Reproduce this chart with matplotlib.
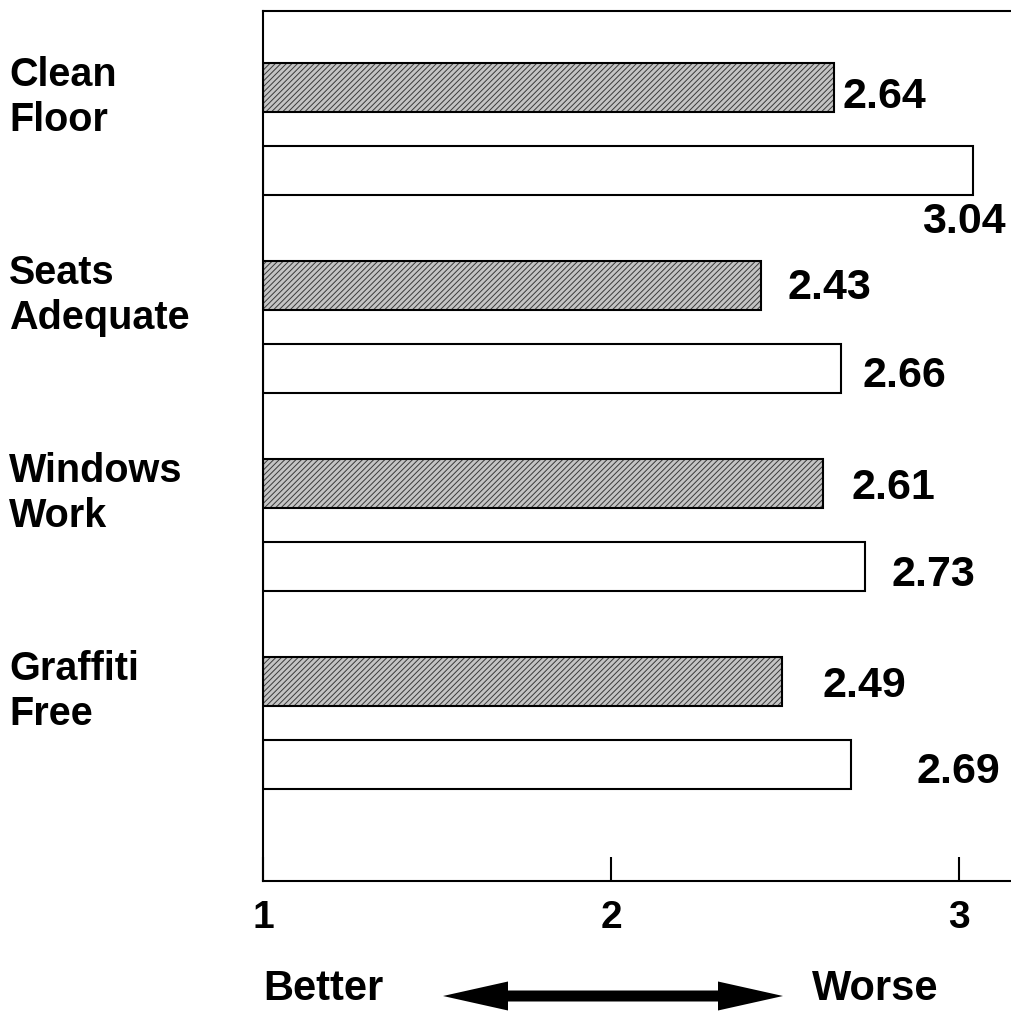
import matplotlib
matplotlib.use("Agg")
import matplotlib.pyplot as plt
import matplotlib.patches as mpatches
from matplotlib.transforms import blended_transform_factory

# data
categories = ["Clean\nFloor", "Seats\nAdequate", "Windows\nWork", "Graffiti\nFree"]
hatched_vals = [2.64, 2.43, 2.61, 2.49]
plain_vals = [3.04, 2.66, 2.73, 2.69]
xticks = [1, 2, 3]
xtick_labels = ["1", "2", "3"]

# label offsets in pixels (dx from bar end, dy downward from bar centre)
hatched_offsets = [(9, 9), (27, 2), (28, 4), (41, 4)]
plain_offsets = [(-51, 50), (22, 6), (26, 7), (65, 6)]

plt.rcParams['font.family'] = ['Liberation Sans', 'DejaVu Sans']
plt.rcParams['font.weight'] = 'bold'
plt.rcParams['hatch.linewidth'] = 0.7
plt.rcParams['hatch.color'] = '#3a3a3a'

W = 1012
fig = plt.figure(figsize=(10.12, 10.12), dpi=100)
ax = fig.add_axes([263 / W, 1 - 882 / W, 1 - 263 / W, (882 - 12) / W])

bar_h = 0.25
off = 0.21
base = 1
for i in range(len(categories)):
    yh = i - off
    yp = i + off
    # hatched bar: fill + hatch, then outline
    ax.barh(yh, hatched_vals[i] - base, left=base, height=bar_h,
            facecolor='#c4c4c4', edgecolor='#3a3a3a', hatch='//////', linewidth=0)
    ax.barh(yh, hatched_vals[i] - base, left=base, height=bar_h,
            facecolor='none', edgecolor='black', linewidth=1.5)
    ax.barh(yp, plain_vals[i] - base, left=base, height=bar_h,
            facecolor='white', edgecolor='black', linewidth=1.5)

    dx, dy = hatched_offsets[i]
    ax.annotate(f"{hatched_vals[i]:.2f}", xy=(hatched_vals[i], yh),
                xytext=(dx, -dy), textcoords='offset pixels',
                ha='left', va='center', fontsize=31, fontweight='bold')
    dx, dy = plain_offsets[i]
    ax.annotate(f"{plain_vals[i]:.2f}", xy=(plain_vals[i], yp),
                xytext=(dx, -dy), textcoords='offset pixels',
                ha='left', va='center', fontsize=31, fontweight='bold')

ax.set_xlim(1, 1 + 749 / 348)
ax.set_ylim(3.798, -0.596)

ax.spines['right'].set_visible(False)
for s in ['top', 'left', 'bottom']:
    ax.spines[s].set_linewidth(1.5)

ax.set_yticks([])
ax.set_xticks(xticks)
ax.set_xticklabels(xtick_labels, fontsize=28, fontweight='bold')
ax.tick_params(axis='x', direction='in', length=17, width=1.5, pad=13)

# category labels at left
trans = blended_transform_factory(fig.transFigure, ax.transData)
for i, cat in enumerate(categories):
    ax.text(9 / W, i - 0.165, cat, transform=trans, ha='left', va='center',
            fontsize=28.5, fontweight='bold', linespacing=1.22, clip_on=False)

# Better <-> Worse
fig.text(263 / W, 1 - 1000 / W, "Better", ha='left', va='baseline',
         fontsize=30, fontweight='bold')
fig.text(812 / W, 1 - 1000 / W, "Worse", ha='left', va='baseline',
         fontsize=30, fontweight='bold')
mid = 613 / W
ay = 1 - 997 / W
for d in (-170, 170):
    arr = mpatches.FancyArrow(mid, ay, d / W, 0, width=11 / W, head_width=29 / W,
                              head_length=65 / W, length_includes_head=True,
                              transform=fig.transFigure, color='black', linewidth=0)
    fig.add_artist(arr)

fig.savefig("out.png", dpi=100)
